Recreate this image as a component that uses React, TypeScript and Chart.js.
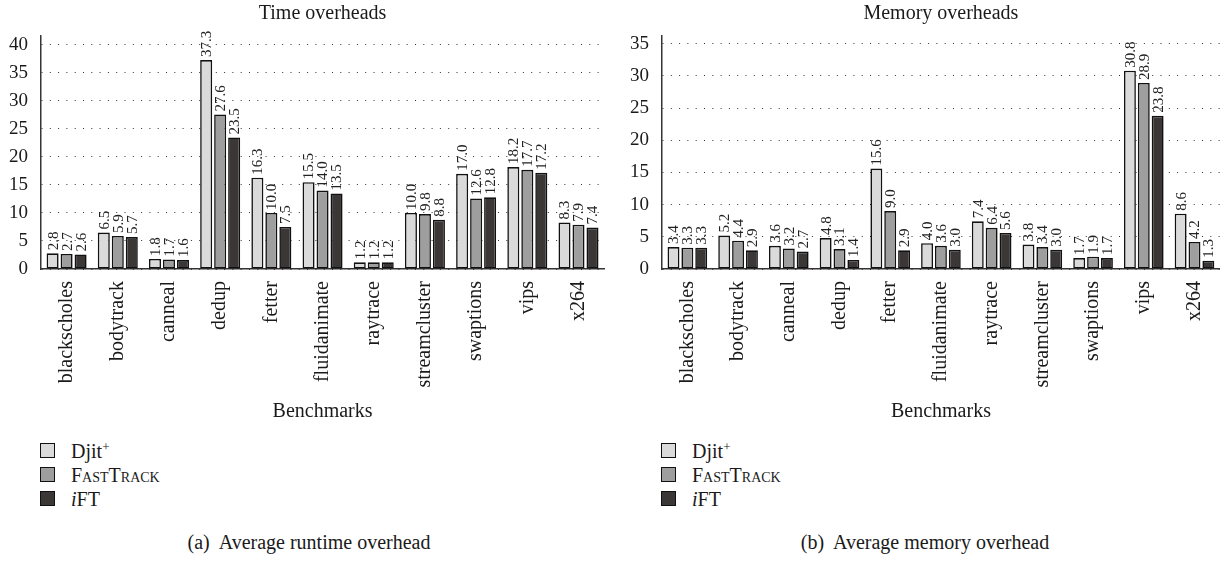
import React, { useEffect, useRef } from 'react';
import { Chart, registerables } from 'chart.js';

Chart.register(...registerables);

const categories = ['blackscholes', 'bodytrack', 'canneal', 'dedup', 'fetter', 'fluidanimate', 'raytrace', 'streamcluster', 'swaptions', 'vips', 'x264'];
const seriesNames = ['Djit+', 'FastTrack', 'iFT'];
const seriesColors = ['#dadada', '#9e9e9e', '#3b3737'];

const timeDjit = [2.8, 6.5, 1.8, 37.3, 16.3, 15.5, 1.2, 10.0, 17.0, 18.2, 8.3];
const timeFastTrack = [2.7, 5.9, 1.7, 27.6, 10.0, 14.0, 1.2, 9.8, 12.6, 17.7, 7.9];
const timeIFT = [2.6, 5.7, 1.6, 23.5, 7.5, 13.5, 1.2, 8.8, 12.8, 17.2, 7.4];

const memDjit = [3.4, 5.2, 3.6, 4.8, 15.6, 4.0, 7.4, 3.8, 1.7, 30.8, 8.6];
const memFastTrack = [3.3, 4.4, 3.2, 3.1, 9.0, 3.6, 6.4, 3.4, 1.9, 28.9, 4.2];
const memIFT = [3.3, 2.9, 2.7, 1.4, 2.9, 3.0, 5.6, 3.0, 1.7, 23.8, 1.3];

const timeTicks = [0, 5, 10, 15, 20, 25, 30, 35, 40];
const memTicks = [0, 5, 10, 15, 20, 25, 30, 35];

const SERIF = '"Liberation Serif", "Times New Roman", serif';
const CANVAS_H = 430;
const PLOT_BOTTOM = 269;

const valueLabels = {
  id: 'valueLabels',
  afterDatasetsDraw(chart: any) {
    const ctx = chart.ctx;
    ctx.save();
    ctx.font = `15px ${SERIF}`;
    ctx.fillStyle = '#222';
    ctx.textAlign = 'left';
    ctx.textBaseline = 'middle';
    chart.data.datasets.forEach((ds: any, i: number) => {
      const meta = chart.getDatasetMeta(i);
      meta.data.forEach((el: any, j: number) => {
        const v = ds.data[j] as number;
        ctx.save();
        ctx.translate(el.x, el.y - 3);
        ctx.rotate(-Math.PI / 2);
        ctx.fillText(v.toFixed(1), 0, 1);
        ctx.restore();
      });
    });
    ctx.restore();
  },
};

function makeConfig(title: string, series: number[][], yMax: number, yTicks: number[], yWidth: number, padRight: number): any {
  return {
    type: 'bar',
    data: {
      labels: categories,
      datasets: series.map((d, i) => ({
        label: seriesNames[i],
        data: d,
        backgroundColor: seriesColors[i],
        borderColor: '#111',
        borderWidth: 1.6,
        borderSkipped: false,
        categoryPercentage: 0.82,
        barPercentage: 0.86,
      })),
    },
    options: {
      animation: false,
      responsive: false,
      maintainAspectRatio: false,
      layout: { padding: { left: 0, right: padRight, top: 0, bottom: 0 } },
      plugins: {
        legend: { display: false },
        tooltip: { enabled: false },
        title: {
          display: true,
          text: title,
          fullSize: false,
          color: '#1a1a1a',
          font: { family: SERIF, size: 20, weight: 'normal' },
          padding: { top: 2, bottom: 10 },
        },
      },
      scales: {
        x: {
          grid: { display: false, drawTicks: false },
          border: { display: true, color: '#333', width: 1.5 },
          ticks: {
            autoSkip: false,
            maxRotation: 90,
            minRotation: 90,
            padding: 12,
            color: '#1a1a1a',
            font: { family: SERIF, size: 20 },
          },
          title: {
            display: true,
            text: 'Benchmarks',
            color: '#1a1a1a',
            font: { family: SERIF, size: 20 },
            padding: { top: 0, bottom: 6 },
          },
          afterFit: (s: any) => {
            s.height = CANVAS_H - PLOT_BOTTOM;
          },
        },
        y: {
          min: 0,
          max: yMax,
          afterBuildTicks: (s: any) => {
            s.ticks = yTicks.map((v) => ({ value: v }));
          },
          afterFit: (s: any) => {
            s.width = yWidth;
          },
          grid: { display: true, drawTicks: false, color: '#333', lineWidth: 1 },
          border: { display: true, color: '#3a3333', width: 1.5, dash: [1, 7.3] },
          ticks: {
            padding: 13,
            color: '#1a1a1a',
            font: { family: SERIF, size: 19 },
          },
        },
      },
    },
    plugins: [valueLabels],
  };
}

function BarChart(props: { left: number; width: number; config: any }) {
  const ref = useRef<HTMLCanvasElement | null>(null);
  useEffect(() => {
    if (!ref.current) return;
    const chart = new Chart(ref.current, props.config);
    return () => chart.destroy();
  }, []);
  return (
    <canvas
      ref={ref}
      width={props.width}
      height={CANVAS_H}
      style={{ position: 'absolute', left: props.left, top: 0, width: props.width, height: CANVAS_H, display: 'block' }}
    />
  );
}

function Legend(props: { left: number }) {
  const rowCenters = [451, 475, 499];
  const labels = [
    <span>Djit<sup style={{ fontSize: 13, verticalAlign: 'top', position: 'relative', top: -4 }}>+</sup></span>,
    <span style={{ fontVariant: 'small-caps' }}>FastTrack</span>,
    <span><i>i</i>FT</span>,
  ];
  return (
    <>
      {labels.map((lab, i) => (
        <div key={i}>
          <div
            style={{
              position: 'absolute',
              left: props.left,
              top: rowCenters[i] - 8,
              width: 13,
              height: 13,
              background: seriesColors[i],
              border: '1.5px solid #111',
            }}
          />
          <div
            style={{
              position: 'absolute',
              left: props.left + 31,
              top: rowCenters[i] - 13,
              height: 26,
              lineHeight: '26px',
              fontFamily: SERIF,
              fontSize: 20,
              color: '#1a1a1a',
              whiteSpace: 'nowrap',
            }}
          >
            {lab}
          </div>
        </div>
      ))}
    </>
  );
}

function Caption(props: { center: number; text: string }) {
  return (
    <div
      style={{
        position: 'absolute',
        left: props.center - 200,
        width: 400,
        top: 542 - 13,
        height: 26,
        lineHeight: '26px',
        textAlign: 'center',
        fontFamily: SERIF,
        fontSize: 20,
        color: '#1a1a1a',
        whiteSpace: 'pre',
      }}
    >
      {props.text}
    </div>
  );
}

export default function App() {
  const timeCfg = makeConfig('Time overheads', [timeDjit, timeFastTrack, timeIFT], 41.6, timeTicks, 41, 10);
  const memCfg = makeConfig('Memory overheads', [memDjit, memFastTrack, memIFT], 36.2, memTicks, 42, 0);
  return (
    <div style={{ position: 'fixed', left: 0, top: 0, width: 1231, height: 563, background: '#fff', overflow: 'hidden' }}>
      <BarChart left={0} width={615} config={timeCfg} />
      <BarChart left={620} width={611} config={memCfg} />
      <Legend left={40} />
      <Legend left={661} />
      <Caption center={309} text={'(a)  Average runtime overhead'} />
      <Caption center={925} text={'(b)  Average memory overhead'} />
    </div>
  );
}
